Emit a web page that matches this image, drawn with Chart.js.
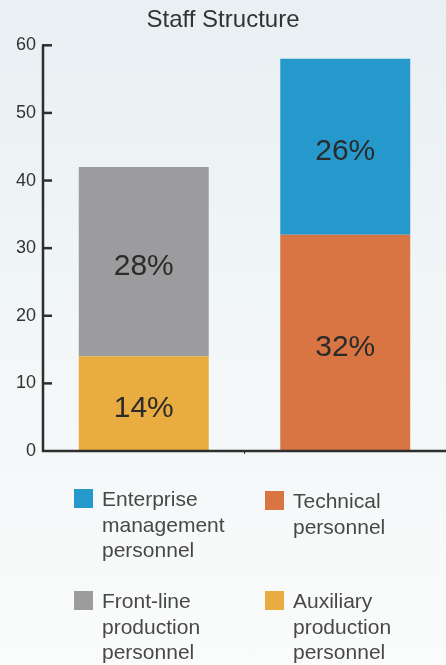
<!DOCTYPE html>
<html>
<head>
<meta charset="utf-8">
<script src="https://cdn.jsdelivr.net/npm/chart.js@4.4.1/dist/chart.umd.min.js"></script>
<style>
  html, body { margin: 0; padding: 0; }
  body {
    width: 446px; height: 665px; overflow: hidden; position: relative;
    background: linear-gradient(to bottom, #e8f0f3 0%, #f3f7f8 55%, #fafbfb 100%);
    font-family: "Liberation Sans", Arial, sans-serif;
  }
  #wrap { position: absolute; left: 0; top: 0; width: 446px; height: 479px; }
  .legend { position: absolute; left: 0; top: 0; width: 446px; height: 665px; pointer-events: none; }
  .item { position: absolute; font-size: 21px; line-height: 25.5px; color: #484848; }
  .item .sw { position: absolute; left: -28px; top: 3px; width: 19px; height: 19px; }
</style>
</head>
<body>
<div id="wrap"><canvas id="staffChart"></canvas></div>
<div class="legend" id="legend"></div>
<script>
// --- datos ---
const categories = ['Group A', 'Group B'];
const seriesNames = ['Auxiliary production personnel', 'Front-line production personnel', 'Technical personnel', 'Enterprise management personnel'];
const auxiliaryValues = [14, 0];
const frontlineValues = [28, 0];
const technicalValues = [0, 32];
const managementValues = [0, 26];
const pctLabels = [['14%', ''], ['28%', ''], ['', '32%'], ['', '26%']];
const yTicks = [0, 10, 20, 30, 40, 50, 60];

const colors = ['#e8ac40', '#9c9c9e', '#d87543', '#2699cc'];

// labels dentro de cada segmento
const segmentLabels = {
    id: 'segmentLabels',
    afterDatasetsDraw(chart) {
        const ctx = chart.ctx;
        ctx.save();
        ctx.font = '30px "Liberation Sans", Arial, sans-serif';
        ctx.fillStyle = '#2b2b2b';
        ctx.textAlign = 'center';
        ctx.textBaseline = 'middle';
        chart.data.datasets.forEach((ds, i) => {
            chart.getDatasetMeta(i).data.forEach((bar, j) => {
                const txt = pctLabels[i][j];
                if (!txt) return;
                const y = (bar.y + bar.base) / 2 + 5;
                ctx.fillText(txt, bar.x, y);
            });
        });
        ctx.restore();
    }
};

// ejes con ticks hacia dentro
const axesLines = {
    id: 'axesLines',
    afterDraw(chart) {
        const ctx = chart.ctx;
        const x = chart.scales.x, y = chart.scales.y;
        const left = chart.chartArea.left, bottom = y.getPixelForValue(0), top = y.getPixelForValue(60);
        ctx.save();
        ctx.strokeStyle = '#2e2e2e';
        ctx.lineWidth = 2.5;
        ctx.beginPath();
        ctx.moveTo(left, top);
        ctx.lineTo(left, bottom);
        ctx.lineTo(chart.width, bottom);
        ctx.stroke();
        yTicks.forEach(v => {
            if (v === 0) return;
            const py = y.getPixelForValue(v);
            ctx.beginPath();
            ctx.moveTo(left - 1, py);
            ctx.lineTo(left + 9, py);
            ctx.stroke();
        });
        // tick entre categorias
        const mid = (x.getPixelForValue(0) + x.getPixelForValue(1)) / 2;
        ctx.lineWidth = 1;
        ctx.beginPath();
        ctx.moveTo(mid, bottom);
        ctx.lineTo(mid, bottom + 3);
        ctx.stroke();
        ctx.restore();
    }
};

const datasets = [auxiliaryValues, frontlineValues, technicalValues, managementValues].map((vals, i) => ({
    label: seriesNames[i],
    data: vals,
    backgroundColor: colors[i],
    borderWidth: 0,
    barPercentage: 0.645,
    categoryPercentage: 1.0
}));

new Chart(document.getElementById('staffChart'), {
    type: 'bar',
    data: { labels: categories, datasets: datasets },
    options: {
        responsive: true,
        maintainAspectRatio: false,
        animation: false,
        layout: { padding: { top: 0, right: 0, bottom: 20, left: 0 } },
        plugins: {
            legend: { display: false },
            tooltip: { enabled: false },
            title: {
                display: true,
                text: 'Staff Structure',
                color: '#333',
                font: { family: '"Liberation Sans", Arial, sans-serif', size: 24, weight: 'normal' },
                padding: { top: 6, bottom: 10.5 }
            }
        },
        scales: {
            x: {
                stacked: true,
                ticks: { display: false },
                grid: { display: false },
                border: { display: false }
            },
            y: {
                stacked: true,
                min: 0,
                max: 60,
                afterBuildTicks: (scale) => { scale.ticks = yTicks.map(v => ({ value: v })); },
                afterFit: (scale) => { scale.width = 43; },
                ticks: {
                    color: '#333',
                    padding: 7,
                    font: { family: '"Liberation Sans", Arial, sans-serif', size: 18 }
                },
                grid: { display: false, drawTicks: false, tickLength: 0 },
                border: { display: false }
            }
        }
    },
    plugins: [segmentLabels, axesLines]
});

// leyenda html
const legendItems = [
    { name: 'Enterprise<br>management<br>personnel', color: colors[3], left: 102, top: 486 },
    { name: 'Technical<br>personnel', color: colors[2], left: 293, top: 488 },
    { name: 'Front-line<br>production<br>personnel', color: colors[1], left: 102, top: 588 },
    { name: 'Auxiliary<br>production<br>personnel', color: colors[0], left: 293, top: 588 }
];
const legendEl = document.getElementById('legend');
legendItems.forEach(it => {
    const d = document.createElement('div');
    d.className = 'item';
    d.style.left = it.left + 'px';
    d.style.top = it.top + 'px';
    d.innerHTML = '<span class="sw" style="background:' + it.color + '"></span>' + it.name;
    legendEl.appendChild(d);
});
</script>
</body>
</html>
